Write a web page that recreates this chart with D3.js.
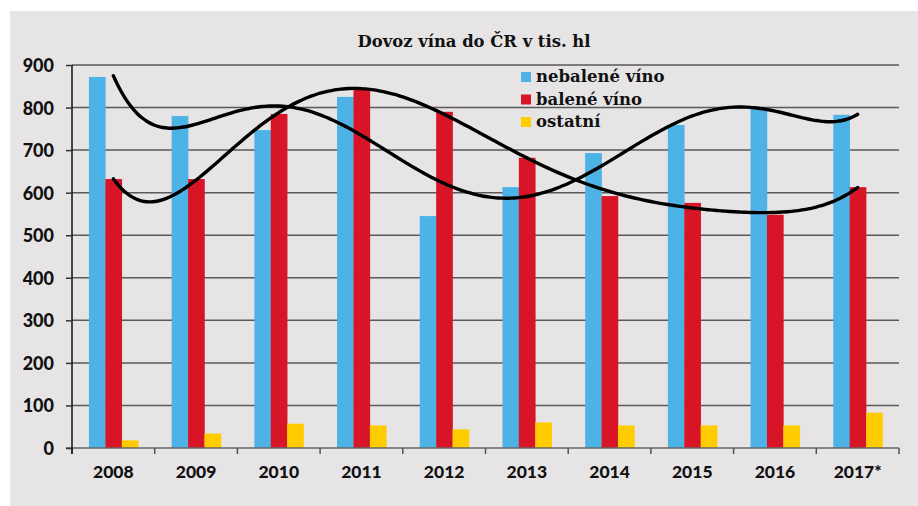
<!DOCTYPE html>
<html>
<head>
<meta charset="utf-8">
<script src="https://cdn.jsdelivr.net/npm/d3@7"></script>
<style>
  body { margin: 0; background: #fff; }
  .tick text { font-family: Lato, "Open Sans", sans-serif; font-weight: 900; fill: #111; }
</style>
</head>
<body>
<svg id="chart" width="918" height="506"></svg>
<script>
var years = ["2008", "2009", "2010", "2011", "2012", "2013", "2014", "2015", "2016", "2017*"];
var seriesNames = ["nebalené víno", "balené víno", "ostatní"];
var nebalene = [872, 780, 747, 825, 545, 613, 693, 759, 800, 783];
var balene = [632, 632, 785, 843, 790, 682, 592, 576, 548, 613];
var ostatni = [18, 34, 57, 53, 44, 60, 53, 53, 53, 83];
var yTicks = [0, 100, 200, 300, 400, 500, 600, 700, 800, 900];
var colors = ["#4db3e6", "#d71526", "#ffcc00"];

var svg = d3.select("#chart"),
  margin = { top: 65, right: 19, bottom: 58, left: 72 },
  width = +svg.attr("width") - margin.left - margin.right,
  height = +svg.attr("height") - margin.top - margin.bottom;

// gray panel
svg.append("rect")
  .attr("x", 10).attr("y", 11)
  .attr("width", 908).attr("height", 495)
  .attr("fill", "#e6e4e5");

svg.append("text")
  .attr("x", 474).attr("y", 47)
  .attr("text-anchor", "middle")
  .style("font-family", "'DejaVu Serif', serif")
  .style("font-weight", "700")
  .style("font-size", "16.4px")
  .attr("fill", "#111")
  .text("Dovoz vína do ČR v tis. hl");

var x0 = d3.scaleBand().domain(years).range([0, width]).padding(0),
  x1 = d3.scaleBand().domain(seriesNames)
    .range([x0.bandwidth() * 0.205, x0.bandwidth() * 0.8]),
  y = d3.scaleLinear().domain([0, 900]).range([height, 0]);

var g = svg.append("g")
  .attr("transform", "translate(" + margin.left + "," + margin.top + ")");

// grid lines
g.append("g")
  .selectAll("line")
  .data(yTicks.slice(1))
  .enter().append("line")
  .attr("x1", 0).attr("x2", width)
  .attr("y1", function (d) { return y(d); })
  .attr("y2", function (d) { return y(d); })
  .attr("stroke", "#5a5a5a")
  .attr("stroke-width", 1.5);

var table = years.map(function (yr, i) {
  return { year: yr, values: [nebalene[i], balene[i], ostatni[i]] };
});

var groups = g.selectAll(".grp")
  .data(table)
  .enter().append("g")
  .attr("class", "grp")
  .attr("transform", function (d) { return "translate(" + x0(d.year) + ",0)"; });

groups.selectAll("rect")
  .data(function (d) { return d.values.map(function (v, k) { return { key: seriesNames[k], value: v, k: k }; }); })
  .enter().append("rect")
  .attr("x", function (d) { return x1(d.key); })
  .attr("y", function (d) { return y(d.value); })
  .attr("width", x1.bandwidth() + 0.3)
  .attr("height", function (d) { return height - y(d.value); })
  .attr("fill", function (d) { return colors[d.k]; });

// x axis
var xAxis = g.append("g")
  .attr("transform", "translate(0," + height + ")")
  .call(d3.axisBottom(x0).tickSize(0).tickPadding(18));
xAxis.select(".domain").attr("stroke", "#666").attr("stroke-width", 1.5)
  .attr("d", "M-6,0H" + width);
xAxis.selectAll(".tick text").style("font-size", "17.5px");
g.append("g")
  .selectAll("line")
  .data(years.map(function (d) { return x0(d); }).concat([width]))
  .enter().append("line")
  .attr("x1", function (d) { return d; }).attr("x2", function (d) { return d; })
  .attr("y1", height).attr("y2", height + 6)
  .attr("stroke", "#555").attr("stroke-width", 1.5);

// y axis
var yAxis = g.append("g")
  .call(d3.axisLeft(y).tickValues(yTicks).tickSize(6).tickPadding(12));
yAxis.select(".domain").attr("stroke", "#111").attr("stroke-width", 1.5)
  .attr("d", "M0,0V" + (height + 6));
yAxis.selectAll(".tick line").attr("stroke", "#333").attr("stroke-width", 1.5);
yAxis.selectAll(".tick text").style("font-size", "18px").attr("dy", "0.36em");

// polynomial trend lines (order 6, least squares)
function polyFit(vals, order) {
  var n = vals.length, m = order + 1;
  var ts = vals.map(function (v, i) { return (i - (n - 1) / 2) / ((n - 1) / 2); });
  var A = [], b = [];
  for (var r = 0; r < m; r++) {
    A.push([]);
    var s = 0;
    for (var i = 0; i < n; i++) s += Math.pow(ts[i], r) * vals[i];
    b.push(s);
    for (var c = 0; c < m; c++) {
      var s2 = 0;
      for (var j = 0; j < n; j++) s2 += Math.pow(ts[j], r + c);
      A[r].push(s2);
    }
  }
  for (var p = 0; p < m; p++) {
    var best = p;
    for (var q = p + 1; q < m; q++) if (Math.abs(A[q][p]) > Math.abs(A[best][p])) best = q;
    var tmp = A[p]; A[p] = A[best]; A[best] = tmp;
    var tb = b[p]; b[p] = b[best]; b[best] = tb;
    for (var q2 = p + 1; q2 < m; q2++) {
      var f = A[q2][p] / A[p][p];
      for (var c2 = p; c2 < m; c2++) A[q2][c2] -= f * A[p][c2];
      b[q2] -= f * b[p];
    }
  }
  var coef = new Array(m);
  for (var r2 = m - 1; r2 >= 0; r2--) {
    var s3 = b[r2];
    for (var c3 = r2 + 1; c3 < m; c3++) s3 -= A[r2][c3] * coef[c3];
    coef[r2] = s3 / A[r2][r2];
  }
  return function (idx) {
    var t = (idx - (n - 1) / 2) / ((n - 1) / 2), v = 0;
    for (var k = 0; k < m; k++) v += coef[k] * Math.pow(t, k);
    return v;
  };
}

var xi = d3.scaleLinear().domain([0, years.length - 1])
  .range([x0(years[0]) + x0.bandwidth() / 2, x0(years[years.length - 1]) + x0.bandwidth() / 2]);
var samples = d3.range(0, years.length - 1 + 0.0001, 0.05);
var line = d3.line()
  .x(function (d) { return xi(d[0]); })
  .y(function (d) { return y(d[1]); })
  .curve(d3.curveBasis);

[nebalene, balene].forEach(function (vals) {
  var fn = polyFit(vals, 6);
  g.append("path")
    .datum(samples.map(function (s) { return [s, fn(s)]; }))
    .attr("fill", "none")
    .attr("stroke", "#000")
    .attr("stroke-width", 3.4)
    .attr("stroke-linecap", "round")
    .attr("d", line);
});

// legend
var legend = svg.append("g").attr("transform", "translate(521,0)");
seriesNames.forEach(function (name, i) {
  legend.append("rect")
    .attr("x", 0).attr("y", 72 + i * 22.5)
    .attr("width", 10).attr("height", 10)
    .attr("fill", colors[i]);
  legend.append("text")
    .attr("x", 15).attr("y", 82 + i * 22.5)
    .style("font-family", "'DejaVu Serif', serif")
    .style("font-weight", "700")
    .style("font-size", "16.5px")
    .attr("fill", "#111")
    .text(name);
});
</script>
</body>
</html>
